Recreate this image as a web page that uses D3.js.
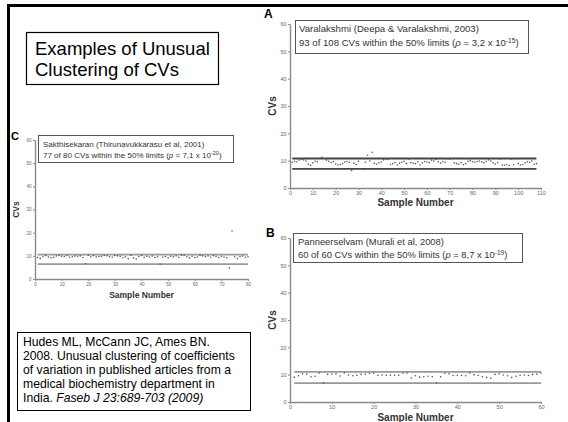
<!DOCTYPE html>
<html>
<head>
<meta charset="utf-8">
<script src="https://cdnjs.cloudflare.com/ajax/libs/d3/7.8.5/d3.min.js"></script>
<style>
  body { margin: 0; background: #fff; }
  svg { display: block; font-family: "Liberation Sans", Arial, sans-serif; }
  .axis path, .axis line { stroke: #8a8a8a; }
  .axis text { fill: #666; }
</style>
</head>
<body>
<div id="chart"></div>
<script>
// 数据 --------------------------------------------------------------
// A: Varalakshmi, 108 CVs
const cvsA = [9.4, 9.8, 9.6, 10.2, 10.5, 10.3, 9.9, 8.7, 8.3, 9.2,
  9.8, 9.6, 10.9, 11.2, 10.8, 10.2, 9.8, 9.3, 9.6, 8.8,
  8.4, 8.6, 8.9, 9.5, 9.7, 9.4, 6.4, 9.1, 8.6, 9.8,
  7.0, 6.8, 9.4, 12.0, 9.9, 13.1, 9.0, 8.7, 9.2, 9.5,
  10.3, 10.6, 10.5, 8.6, 8.9, 9.3, 8.4, 9.1, 9.4, 9.8,
  9.0, 10.6, 9.3, 9.1, 8.9, 9.6, 8.4, 9.2, 9.7, 9.5,
  9.3, 10.2, 9.9, 10.4, 9.6, 9.1, 9.7, 9.4, 10.7, 10.5,
  10.8, 9.2, 8.9, 8.7, 9.3, 8.5, 8.9, 9.8, 10.1, 9.6,
  9.4, 9.7, 9.9, 9.5, 9.2, 9.8, 10.3, 9.9, 9.2, 8.8,
  9.3, 10.6, 8.4, 8.3, 8.6, 8.2, 10.6, 8.5, 10.7, 8.9,
  8.4, 8.6, 9.2, 9.6, 9.4, 9.9, 8.7, 8.9];
// B: Panneerselvam, 60 CVs
const cvsB = [9.0, 9.6, 10.3, 10.2, 9.2, 9.4, 10.6, 7.0, 10.1, 10.2,
  10.3, 9.5, 10.6, 9.9, 9.6, 9.8, 10.1, 10.2, 10.4, 10.5,
  9.8, 9.9, 9.8, 9.8, 9.8, 9.8, 10.6, 10.6, 8.8, 9.6,
  9.1, 9.2, 9.4, 9.3, 7.0, 9.2, 10.5, 10.3, 9.7, 9.8,
  9.7, 9.6, 10.6, 10.0, 9.8, 9.3, 9.0, 8.7, 10.1, 10.3,
  9.9, 9.6, 9.0, 9.4, 9.8, 9.9, 9.7, 10.1, 10.2, 10.6];
// C: Sakthisekaran, 80 CVs
const cvsC = [9.3, 8.9, 9.6, 10.1, 9.5, 9.2, 9.4, 9.9, 10.2, 9.8,
  9.7, 10.1, 9.4, 9.6, 9.9, 9.8, 10.0, 9.3, 6.6, 10.3,
  9.6, 10.1, 9.5, 9.7, 9.8, 10.2, 10.0, 9.6, 9.4, 10.1,
  10.0, 9.8, 9.2, 9.6, 8.8, 10.3, 9.1, 8.6, 9.7, 10.2,
  9.4, 9.8, 9.5, 9.9, 9.3, 9.6, 6.4, 9.5, 9.7, 9.2,
  9.8, 9.6, 10.0, 9.4, 10.4, 10.2, 9.6, 9.1, 9.8, 9.3,
  9.5, 10.3, 10.0, 9.6, 9.9, 9.4, 10.1, 9.7, 9.3, 9.8,
  9.5, 9.2, 4.7, 20.7, 9.6, 8.8, 9.7, 9.9, 9.4, 9.6];

// 50% 界限线 [下, 上]
const limitsA = [7.0, 10.8];
const limitsB = [6.9, 11.0];
const limitsC = [6.4, 10.5];

// 刻度
const yTicks = [0, 10, 20, 30, 40, 50, 60];
const xTicksA = [0, 10, 20, 30, 40, 50, 60, 70, 80, 90, 100, 110];
const xTicksB = [0, 10, 20, 30, 40, 50, 60];
const xTicksC = [0, 10, 20, 30, 40, 50, 60, 70, 80];

// 文字
const titleLines = ["Examples of Unusual", "Clustering of CVs"];
const citeLines = ["Hudes ML, McCann JC, Ames BN.",
  "2008. Unusual clustering of coefficients",
  "of variation in published articles from a",
  "medical biochemistry department in"];
const legendA = ["Varalakshmi (Deepa & Varalakshmi, 2003)", "93 of 108 CVs within the 50% limits (", "ρ", " = 3,2 x 10", "-15", ")"];
const legendB = ["Panneerselvam (Murali et al, 2008)", "60 of 60 CVs within the 50% limits (", "p", " = 8,7 x 10", "-19", ")"];
const legendC = ["Sakthisekaran (Thirunavukkarasu et al, 2001)", "77 of 80 CVs within the 50% limits (", "p", " = 7,1 x 10", "-20", ")"];

// 画布 --------------------------------------------------------------
const svg = d3.select("#chart").append("svg")
  .attr("width", 568)
  .attr("height", 422);

svg.append("rect").attr("width", 568).attr("height", 422).attr("fill", "#fff");

// 外框 (上边和左边的粗线)
svg.append("line").attr("x1", 7).attr("x2", 568).attr("y1", 5.5).attr("y2", 5.5)
  .attr("stroke", "#000").attr("stroke-width", 3);
svg.append("line").attr("x1", 8.5).attr("x2", 8.5).attr("y1", 4).attr("y2", 422)
  .attr("stroke", "#000").attr("stroke-width", 3);

// 标题框
svg.append("rect").attr("x", 26.5).attr("y", 32.5).attr("width", 192).attr("height", 52)
  .attr("fill", "none").attr("stroke", "#000").attr("stroke-width", 1.2);
svg.append("g").selectAll("text").data(titleLines).join("text")
  .attr("x", 35).attr("y", (d, i) => 55 + i * 21)
  .attr("font-size", "18.5px").attr("fill", "#000")
  .text(d => d);

// 引用框
svg.append("rect").attr("x", 17.5).attr("y", 332.5).attr("width", 233).attr("height", 78)
  .attr("fill", "none").attr("stroke", "#000").attr("stroke-width", 1);
svg.append("g").selectAll("text").data(citeLines).join("text")
  .attr("x", 23).attr("y", (d, i) => 345.5 + i * 14.2)
  .attr("font-size", "12.2px").attr("fill", "#000")
  .text(d => d);
const lastLine = svg.append("text").attr("x", 23).attr("y", 345.5 + 4 * 14.2)
  .attr("font-size", "12.2px").attr("fill", "#000");
lastLine.append("tspan").text("India. ");
lastLine.append("tspan").attr("font-style", "italic").text("Faseb J 23:689-703 (2009)");

// 三个小图 -----------------------------------------------------------
function drawPanel(opt) {
  const x = d3.scaleLinear().domain([0, opt.xMax]).range([opt.left, opt.right]);
  const y = d3.scaleLinear().domain([0, 60]).range([opt.bottom, opt.top]);
  const g = svg.append("g");

  // 面板字母
  g.append("text").attr("x", opt.letterX).attr("y", opt.letterY)
    .attr("font-size", opt.letterSize).attr("font-weight", "bold").text(opt.letter);

  // 坐标轴
  const ax = g.append("g").attr("class", "axis")
    .attr("transform", `translate(0,${opt.bottom})`)
    .call(d3.axisBottom(x).tickValues(opt.xTicks).tickSize(2).tickPadding(1.5).tickSizeOuter(0));
  const ay = g.append("g").attr("class", "axis")
    .attr("transform", `translate(${opt.left},0)`)
    .call(d3.axisLeft(y).tickValues(yTicks).tickSize(2).tickPadding(1.5).tickSizeOuter(0));
  [ax, ay].forEach(a => {
    a.select(".domain").attr("stroke-width", 1.4);
    a.selectAll("text").attr("font-size", opt.tickSize);
  });

  // 50% 界限线
  g.selectAll(".limit").data(opt.limits).join("line")
    .attr("class", "limit")
    .attr("x1", x(1)).attr("x2", x(opt.data.length))
    .attr("y1", d => y(d)).attr("y2", d => y(d))
    .attr("stroke", opt.limitColor).attr("stroke-width", 1.8);

  // 数据点
  g.selectAll(".pt").data(opt.data).join("circle")
    .attr("class", "pt")
    .attr("cx", (d, i) => x(i + 1))
    .attr("cy", d => y(d))
    .attr("r", 0.8)
    .attr("fill", "#555");

  // 轴标题
  g.append("text")
    .attr("transform", `translate(${opt.cvsX},${(opt.top + opt.bottom) / 2}) rotate(-90)`)
    .attr("text-anchor", "middle").attr("font-weight", "bold")
    .attr("font-size", opt.labelSize).attr("fill", "#333").text("CVs");
  g.append("text")
    .attr("x", (opt.left + opt.right) / 2).attr("y", opt.snY)
    .attr("text-anchor", "middle").attr("font-weight", "bold")
    .attr("font-size", opt.labelSize).attr("fill", "#333").text("Sample Number");

  // 图例框
  const lb = opt.legendBox;
  g.append("rect").attr("x", lb[0] + 0.5).attr("y", lb[1] + 0.5)
    .attr("width", lb[2] - lb[0]).attr("height", lb[3] - lb[1])
    .attr("fill", "#fff").attr("stroke", "#555").attr("stroke-width", 1);
  g.append("text").attr("x", opt.legendX).attr("y", opt.legendY[0])
    .attr("font-size", opt.legendSize).attr("fill", "#333").text(opt.legend[0]);
  const t2 = g.append("text").attr("x", opt.legendX).attr("y", opt.legendY[1])
    .attr("font-size", opt.legendSize).attr("fill", "#333");
  t2.append("tspan").text(opt.legend[1]);
  t2.append("tspan").attr("font-style", "italic").text(opt.legend[2]);
  t2.append("tspan").text(opt.legend[3]);
  t2.append("tspan").attr("dy", -3).attr("font-size", "0.7em").text(opt.legend[4]);
  t2.append("tspan").attr("dy", 3).text(opt.legend[5]);
}

drawPanel({
  letter: "A", letterX: 264, letterY: 18, letterSize: "12px",
  data: cvsA, limits: limitsA, xMax: 110, xTicks: xTicksA,
  left: 290, right: 541, top: 24, bottom: 188,
  limitColor: "#444", tickSize: "5.5px", labelSize: "10px",
  cvsX: 276, snY: 206,
  legendBox: [295, 20, 528, 53], legendX: 299, legendY: [32, 45.5], legendSize: "9.6px",
  legend: legendA
});

drawPanel({
  letter: "B", letterX: 266, letterY: 237, letterSize: "12px",
  data: cvsB, limits: limitsB, xMax: 60, xTicks: xTicksB,
  left: 290, right: 541, top: 238, bottom: 402,
  limitColor: "#999", tickSize: "5.5px", labelSize: "10px",
  cvsX: 276, snY: 421,
  legendBox: [293, 233, 522, 262], legendX: 298, legendY: [244.5, 257.5], legendSize: "9.4px",
  legend: legendB
});

drawPanel({
  letter: "C", letterX: 11, letterY: 140, letterSize: "11px",
  data: cvsC, limits: limitsC, xMax: 80, xTicks: xTicksC,
  left: 35, right: 248, top: 140, bottom: 279,
  limitColor: "#999", tickSize: "4.5px", labelSize: "8.5px",
  cvsX: 19, snY: 298,
  legendBox: [38, 135, 233, 162], legendX: 43, legendY: [146.5, 157.5], legendSize: "8px",
  legend: legendC
});
</script>
</body>
</html>
